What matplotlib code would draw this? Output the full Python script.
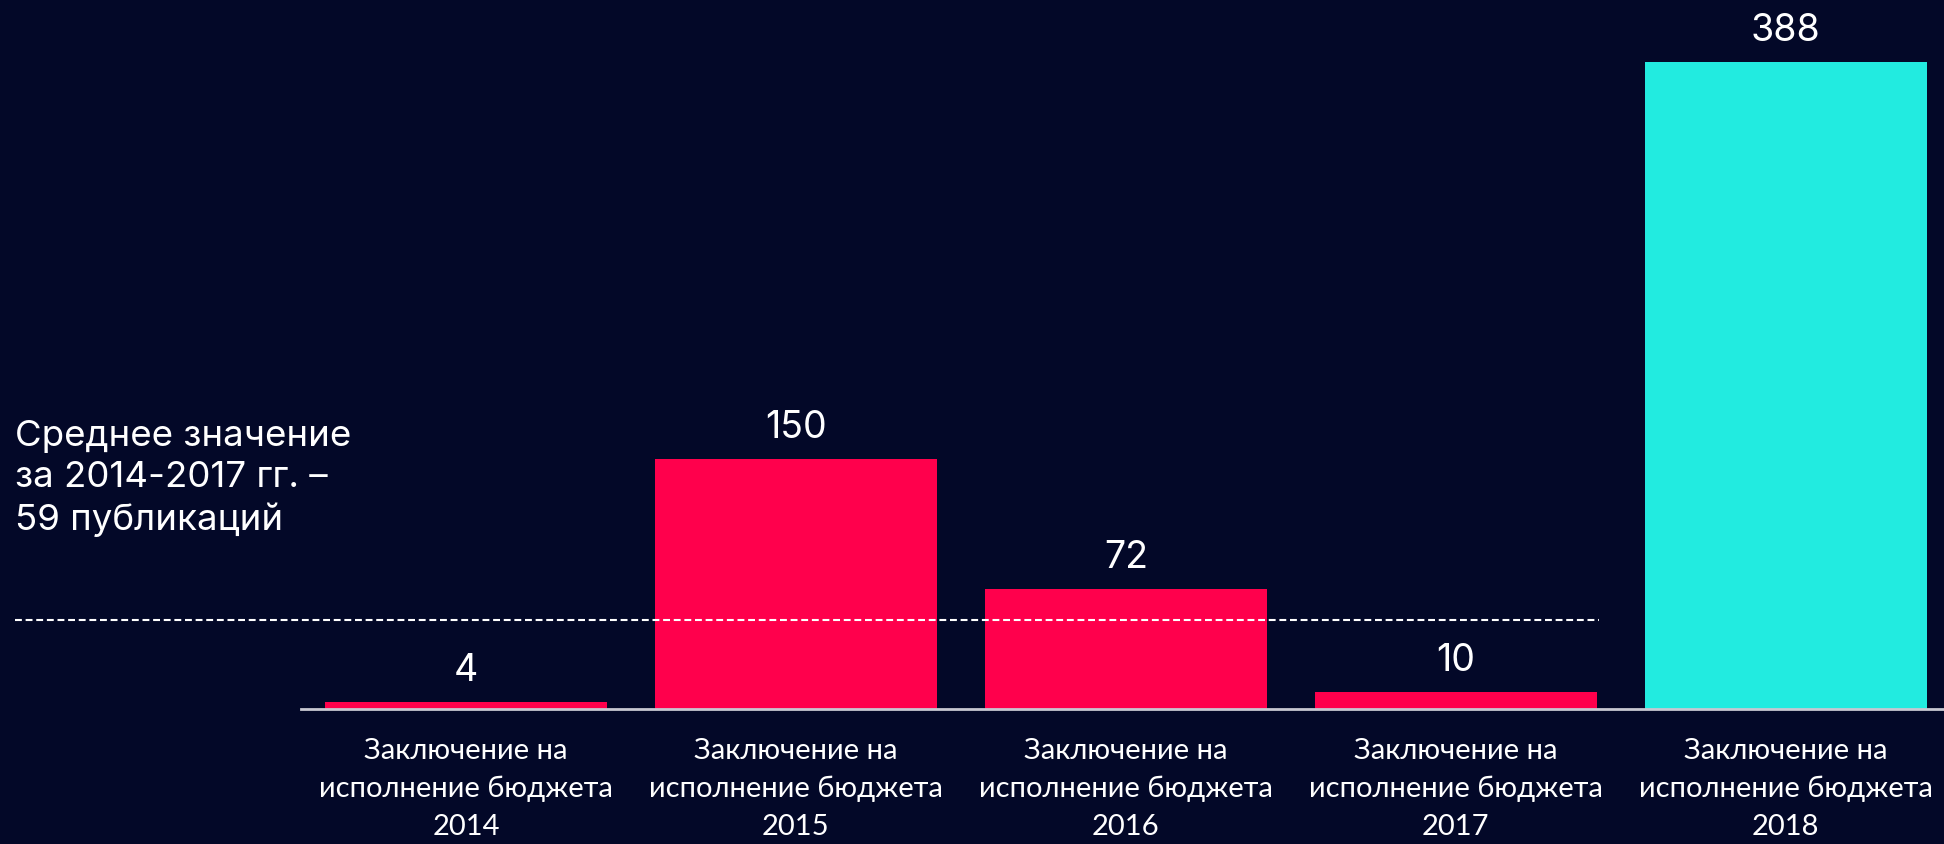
import matplotlib
matplotlib.use("Agg")
from matplotlib import pyplot as plt

# data
years = ["2014", "2015", "2016", "2017", "2018"]
counts = [4, 150, 72, 10, 388]
bar_colors = ["#ff004c", "#ff004c", "#ff004c", "#ff004c", "#22ebe0"]
tick_labels = ["Заключение на\nисполнение бюджета\n" + y for y in years]
mean_level = 53.5
note = "Среднее значение\nза 2014-2017 гг. –\n59 публикаций"

bg = "#030828"

fig = plt.figure(figsize=(19.44, 8.45), dpi=100, facecolor=bg)
ax = fig.add_axes([301 / 1944, 135 / 845, 1 - 301 / 1944, 710 / 845])
ax.set_facecolor(bg)

x = range(len(counts))
bars = ax.bar(x, counts, width=0.855, color=bar_colors, zorder=2)
ax.bar_label(bars, labels=[str(c) for c in counts], padding=10,
             color="white", fontsize=27, family="Inter")

ax.set_xlim(-0.5, 4.48)
ax.set_ylim(0, 426)

ax.set_xticks(list(x))
ax.set_xticklabels(tick_labels, color="white", fontsize=21, family="Lato",
                   linespacing=1.56)
ax.tick_params(axis="x", length=0, pad=20)
ax.set_yticks([])

for s in ["top", "right", "left"]:
    ax.spines[s].set_visible(False)
ax.spines["bottom"].set_color("#c8c8d2")
ax.spines["bottom"].set_linewidth(2)

# dashed mean line, stretching left of the axes
tr = ax.get_yaxis_transform()
ax.plot([-0.174, 0.79], [mean_level, mean_level], transform=tr,
        color="white", linestyle=(0, (3.3, 1.8)), linewidth=1.5,
        clip_on=False, zorder=3)

fig.text(15 / 1944, 1 - 420 / 845, note, color="white", fontsize=26.4,
         family="Inter", va="top", ha="left", linespacing=1.3)

fig.savefig("out.png", dpi=100, facecolor=bg)
